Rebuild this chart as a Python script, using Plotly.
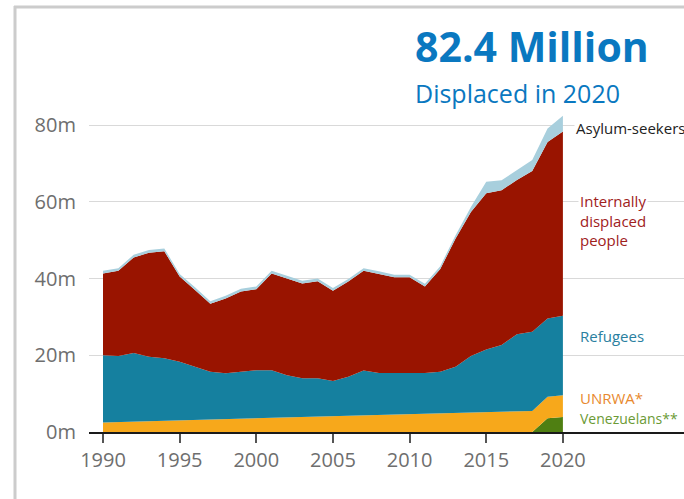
import plotly.graph_objects as go

years = list(range(1990, 2021))

venezuelans = [0.0]*29 + [3.6, 3.9]
unrwa = [2.5, 2.6, 2.7, 2.8, 3.0, 3.1, 3.2, 3.3, 3.4, 3.5, 3.6, 3.7, 3.8, 3.9, 4.0, 4.2,
         4.3, 4.4, 4.5, 4.6, 4.7, 4.8, 4.9, 5.0, 5.1, 5.2, 5.3, 5.4, 5.5, 5.6, 5.7]
refugees = [17.5, 17.2, 17.9, 16.8, 16.2, 15.2, 13.8, 12.4, 11.9, 12.2, 12.5, 12.4, 11.0, 10.1, 10.0, 9.1,
            10.1, 11.6, 10.9, 10.8, 10.7, 10.6, 10.8, 12.0, 14.7, 16.3, 17.4, 20.1, 20.6, 20.4, 20.7]
idps = [21.3, 22.2, 24.9, 27.1, 27.9, 22.2, 20.0, 17.7, 19.5, 20.9, 21.1, 25.2, 25.2, 24.7, 25.3, 23.5,
        24.8, 26.0, 25.8, 24.9, 24.9, 22.5, 26.8, 33.4, 37.5, 40.7, 40.3, 40.2, 41.9, 46.0, 48.0]
asylum = [0.7]*23 + [0.9, 1.3, 3.0, 2.6, 2.6, 2.9, 3.5, 4.1]

series_names = ["Venezuelans**", "UNRWA*", "Refugees", "Internally<br>displaced<br>people", "Asylum-seekers"]
y_ticks = [0, 20, 40, 60, 80]
y_tick_labels = ["0m", "20m", "40m", "60m", "80m"]
x_ticks = [1990, 1995, 2000, 2005, 2010, 2015, 2020]

fill_colors = ["#4f7f12", "#f7a81b", "#15809f", "#991400", "#a8cfdd"]
label_colors = ["#6b9a35", "#e8892f", "#2a80a0", "#a0211c", "#222222"]
label_sizes = [14, 15, 15, 15, 15]
label_y = [3.5, 8.9, 24.9, 55.2, 79.2]
label_x = [2021.0, 2021.0, 2021.0, 2021.0, 2020.75]

fig = go.Figure()
for name, vals, col in zip(series_names, [venezuelans, unrwa, refugees, idps, asylum], fill_colors):
    fig.add_trace(go.Scatter(x=years, y=vals, stackgroup="one", mode="lines",
                             line=dict(width=0, color=col), fillcolor=col, name=name,
                             hoverinfo="skip"))

W, H = 684, 499
L, T, R = 89, 100, 0
B = H - 432
pw = W - L - R
ph = H - T - B
ppy = 3.8375
ymax = ph / ppy
ppx = 15.33
x0 = 1990 - (103 - L) / ppx
x1 = x0 + pw / ppx


def px2paper_x(px):
    return (px - L) / pw


def px2paper_y(py):
    return (H - B - py) / ph


annotations = []
for name, col, sz, ly, lx in zip(series_names, label_colors, label_sizes, label_y, label_x):
    annotations.append(dict(x=lx, y=ly, xref="x", yref="y", text=name, showarrow=False,
                            xanchor="left", yanchor="middle", align="left",
                            font=dict(family="Open Sans", size=sz, color=col),
                            bgcolor="white", borderpad=1))

annotations.append(dict(x=px2paper_x(413), y=px2paper_y(46), xref="paper", yref="paper",
                        text="<b>82.4 Million</b>", showarrow=False, xanchor="left", yanchor="middle",
                        font=dict(family="Open Sans", size=41, color="#0a78c0")))
annotations.append(dict(x=px2paper_x(413), y=px2paper_y(93), xref="paper", yref="paper",
                        text="Displaced in 2020", showarrow=False, xanchor="left", yanchor="middle",
                        font=dict(family="Open Sans", size=25, color="#0a78c0")))

shapes = [
    dict(type="line", xref="paper", yref="paper", x0=px2paper_x(15), x1=px2paper_x(15),
         y0=px2paper_y(6), y1=px2paper_y(499), line=dict(color="#cccccc", width=3)),
    dict(type="line", xref="paper", yref="paper", x0=px2paper_x(14), x1=px2paper_x(684),
         y0=px2paper_y(7), y1=px2paper_y(7), line=dict(color="#cccccc", width=3)),
]

fig.update_layout(
    width=W, height=H,
    margin=dict(l=L, r=R, t=T, b=B, pad=0),
    paper_bgcolor="white", plot_bgcolor="white",
    showlegend=False,
    hovermode=False,
    annotations=annotations,
    shapes=shapes,
    xaxis=dict(range=[x0, x1], tickvals=x_ticks, ticks="outside", ticklen=9, tickwidth=1.5,
               tickcolor="#555555", showgrid=False, zeroline=False, showline=True,
               linecolor="#1a1a1a", linewidth=2,
               tickfont=dict(family="Open Sans", size=20, color="#6e6e6e")),
    yaxis=dict(range=[0, ymax], tickvals=y_ticks, ticktext=y_tick_labels, showgrid=True,
               gridcolor="#d9d9d9", gridwidth=1, zeroline=False, showline=False,
               ticks="", ticklabelstandoff=12,
               tickfont=dict(family="Open Sans", size=20, color="#6e6e6e")),
)

fig.write_html("out.html", config={"displayModeBar": False},
               post_script="document.body.style.margin='0';document.body.style.overflow='hidden';")
